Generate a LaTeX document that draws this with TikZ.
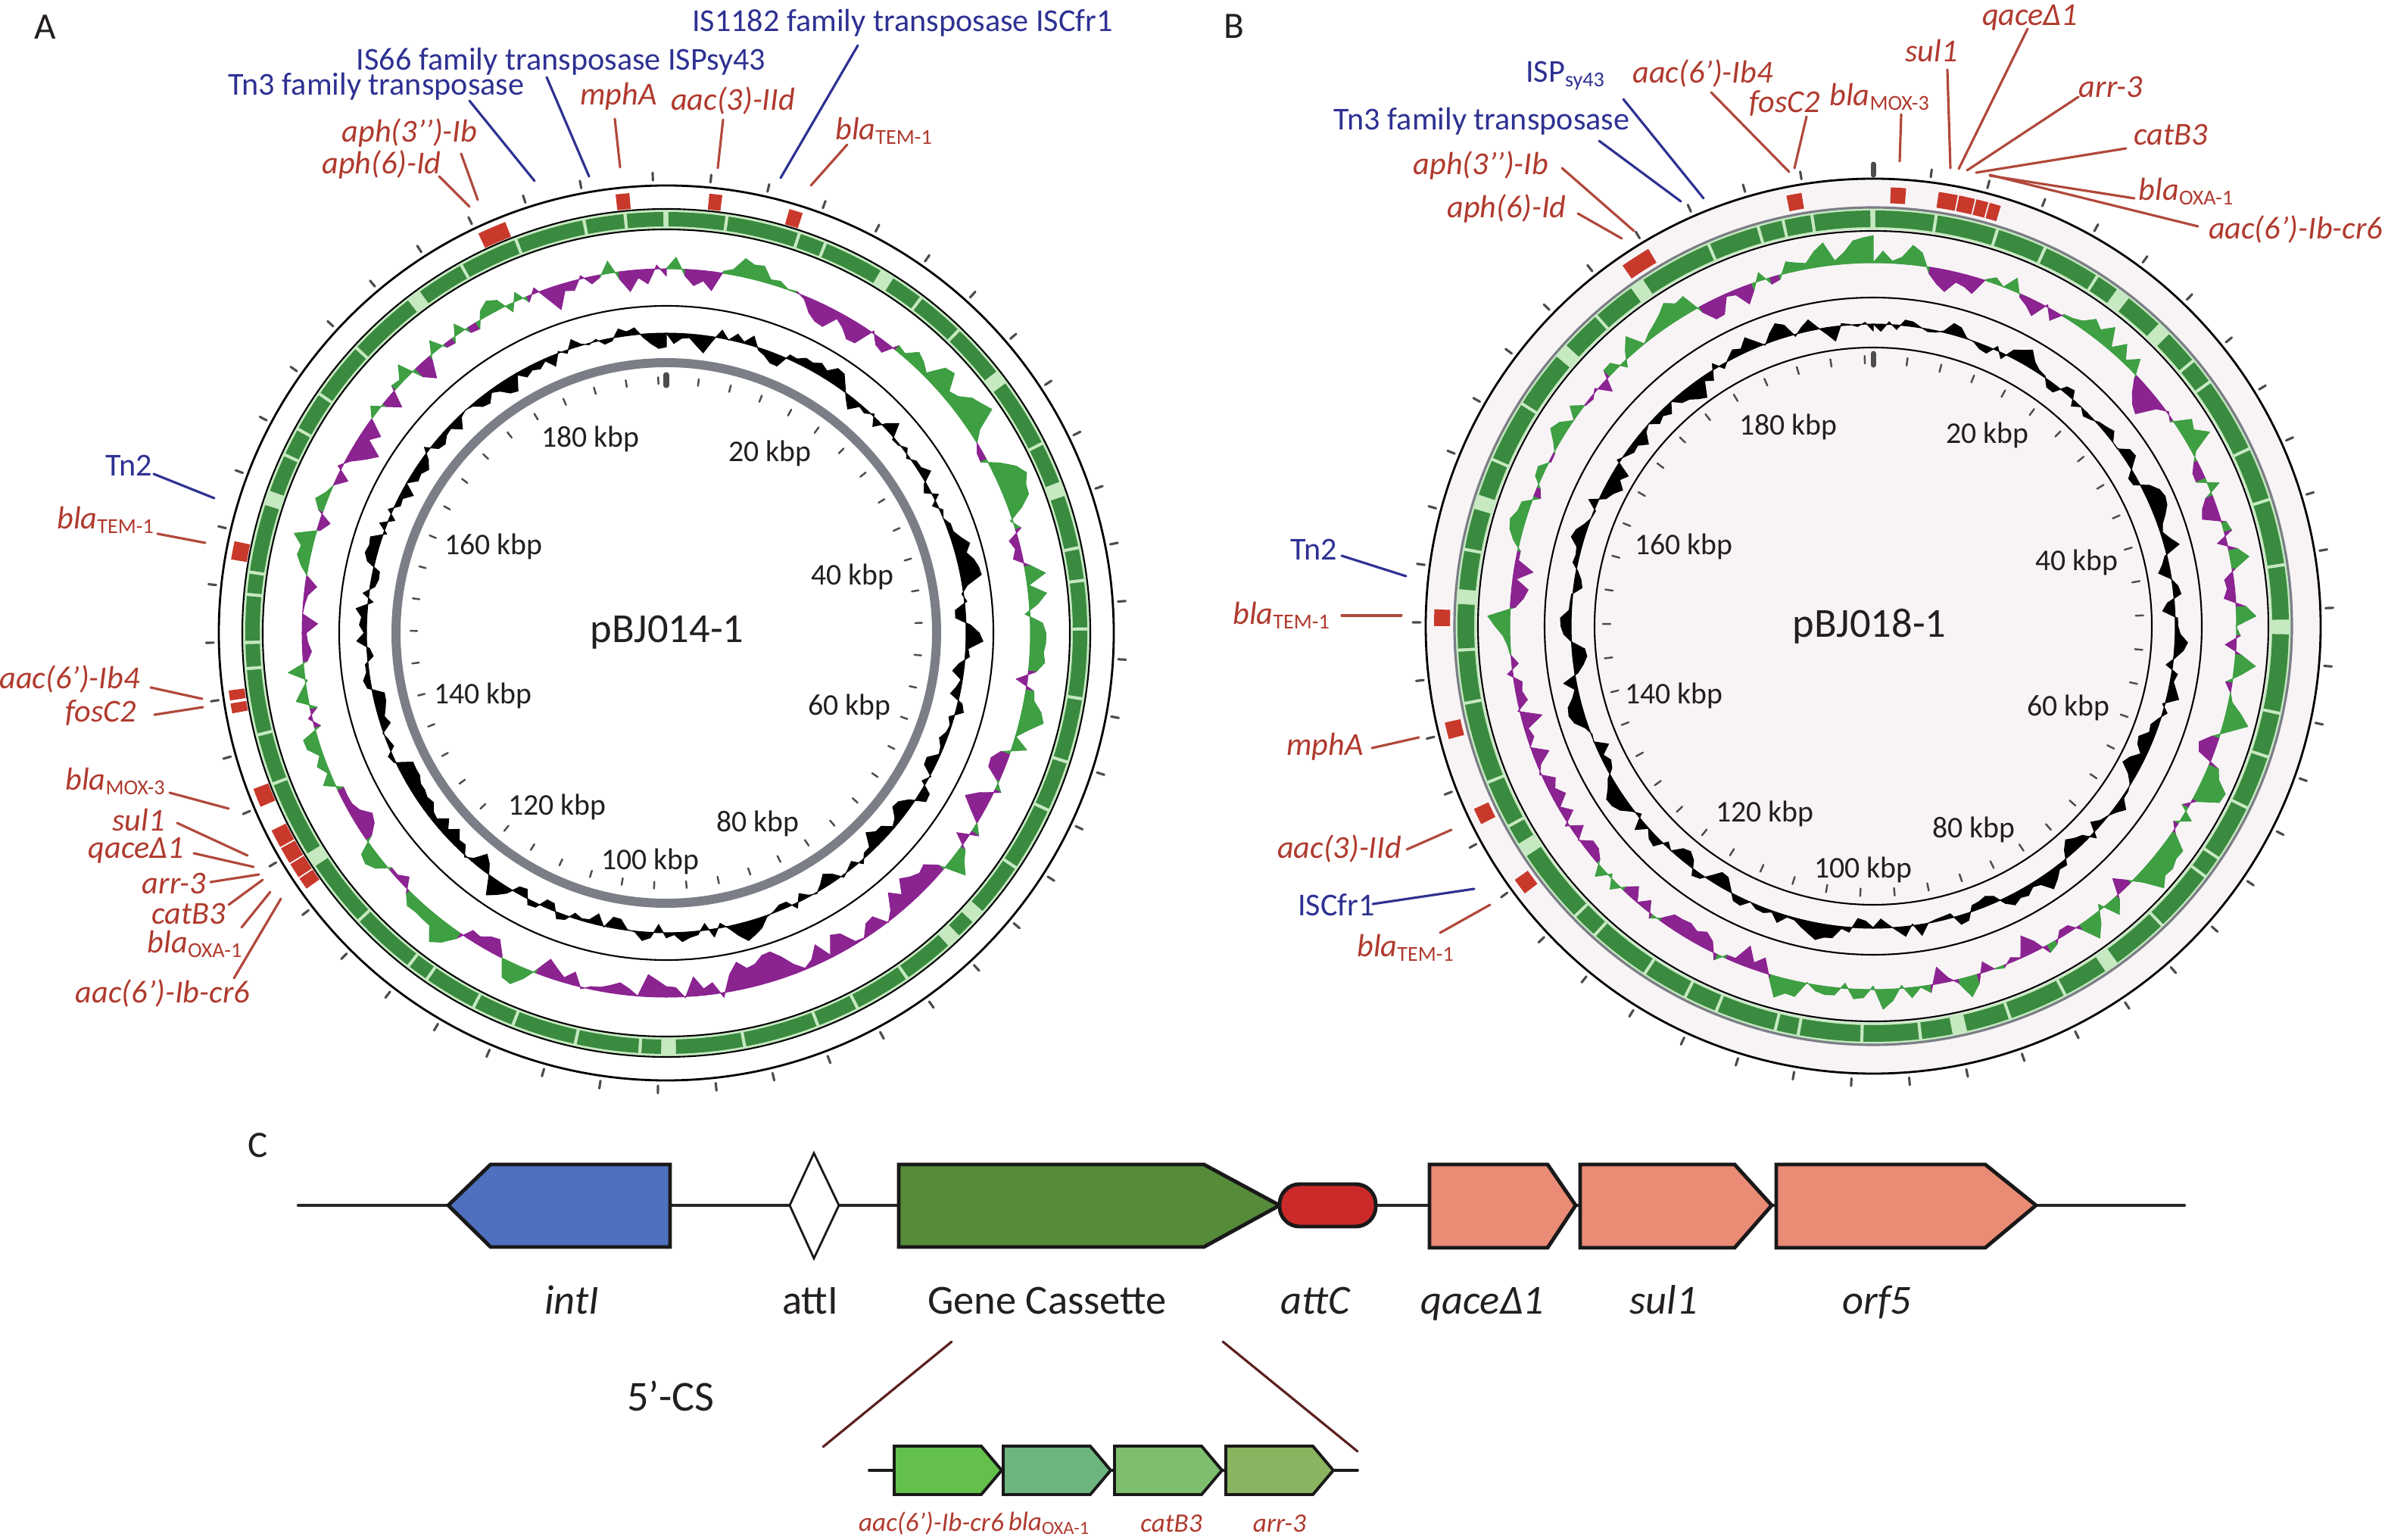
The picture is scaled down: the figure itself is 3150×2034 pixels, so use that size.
\documentclass[tikz,border=0pt]{standalone}
\usepackage{fontspec}
\setmainfont{Carlito}
\usetikzlibrary{positioning}
\definecolor{labred}{HTML}{B03A2E}
\definecolor{leadred}{HTML}{B0483B}
\definecolor{labblue}{HTML}{2E3192}
\definecolor{genered}{HTML}{C8392B}
\definecolor{cdsdark}{HTML}{3A8A3F}
\definecolor{cdslight}{HTML}{C6E9C1}
\definecolor{skewgreen}{HTML}{3E9F43}
\definecolor{skewpurple}{HTML}{8B2391}
\definecolor{ringgray}{HTML}{7B7E86}
\definecolor{diskpink}{HTML}{F8F4F6}
\definecolor{txtgray}{HTML}{231F20}
\definecolor{intblue}{HTML}{4F70BF}
\definecolor{casgreen}{HTML}{558B39}
\definecolor{attcred}{HTML}{CC2A2A}
\definecolor{salmon}{HTML}{EA8B75}
\definecolor{casa}{HTML}{62C04B}
\definecolor{casb}{HTML}{6DB57F}
\definecolor{casc}{HTML}{7DBF6E}
\definecolor{casd}{HTML}{8AB45F}
\definecolor{zoomc}{HTML}{5C2020}

% ring sector: inner/outer radius, start/end angle clockwise from top
\newcommand{\annsec}[4]{(#3-90:#1) arc[start angle=#3-90,end angle=#4-90,radius=#1] -- (#4-90:#2) arc[start angle=#4-90,end angle=#3-90,radius=#2] -- cycle}
% skew / content track
\newcommand{\gctrack}[6]{%
  \pgfmathsetseed{#4}\gdef\vold{0}%
  \foreach \ang in {0,1.5,...,358.5}{%
    \pgfmathsetmacro\vnew{max(-38,min(46,0.55*\vold+#2+#3*(rnd-0.5)))}%
    \pgfmathsetmacro\vsum{\vold+\vnew}%
    \pgfmathsetmacro\ra{#1+\vold}\pgfmathsetmacro\rb{#1+\vnew}%
    \ifdim\vsum pt>0pt\def\gccol{#5}\else\def\gccol{#6}\fi
    \filldraw[\gccol,line width=0.3pt,line join=round] (\ang-90:#1) -- (\ang-90:\ra) -- (\ang-88.5:\rb) -- (\ang-88.5:#1) -- cycle;%
    \global\let\vold\vnew}}
% CDS blocks
\newcommand{\cdsring}[3]{%
  \pgfmathsetseed{#3}\gdef\acur{0.3}%
  \foreach \i in {1,...,80}{%
    \pgfmathsetmacro\aend{min(\acur+2.5+8.5*rnd,359.6)}%
    \ifdim\acur pt<359pt \fill[cdsdark] \annsec{#1}{#2}{\acur}{\aend};\fi
    \pgfmathsetmacro\anew{\aend+0.45+1.6*(rnd>0.85)}%
    \global\let\acur\anew}}

\tikzset{
  ringline/.style={draw=black,line width=0.8pt},
  tickc/.style={draw=black!70,line width=0.9pt},
  redlab/.style={text=labred,font=\fontsize{12}{14}\selectfont\itshape,inner sep=0pt},
  bluelab/.style={text=labblue,font=\fontsize{12}{14}\selectfont,inner sep=0pt},
  redlead/.style={draw=leadred,line width=0.9pt},
  bluelead/.style={draw=labblue,line width=0.9pt},
  kbplab/.style={text=txtgray,font=\fontsize{11.3}{13}\selectfont,inner sep=0pt},
  plname/.style={text=txtgray,font=\fontsize{15.5}{18}\selectfont,inner sep=0pt},
  panlab/.style={text=txtgray,font=\fontsize{14}{16}\selectfont,inner sep=0pt},
  gbox/.style={draw=black!90,line width=1.4pt,line join=miter},
  sbox/.style={draw=black!90,line width=1.1pt},
  cline/.style={draw=black!85,line width=1.2pt},
  clab/.style={text=txtgray,font=\fontsize{15.5}{18}\selectfont,anchor=base,inner sep=0pt},
  citlab/.style={clab,font=\fontsize{15.5}{18}\selectfont\itshape},
  smallred/.style={text=labred,font=\fontsize{10}{12}\selectfont\itshape,inner sep=0pt},
  zoomline/.style={draw=zoomc,line width=0.9pt}
}

\begin{document}
\begin{tikzpicture}[x=0.01cm,y=-0.01cm,line cap=round]
\useasboundingbox (0,0) rectangle (3150,2034);

\node[panlab] (la) at (60,36) {A};
\node[panlab] (lb) at (1630,35) {B};
\node[panlab] (lc) at (341,1513) {C};

% plasmid pBJ014-1
\begin{scope}[shift={(880,836)}]
  \foreach \k in {0,...,48}{\draw[tickc] (\k*7.31-91.7:598) -- (\k*7.31-91.7:608);}
  \draw[ringline] (0,0) circle[radius=591];
  \foreach \p/\q in {-25.2/-21.4,-6.6/-4.8,5.6/7.3,16.2/18,-80.4/-78,259.5/260.8,261.2/262.5,246.8/249.3,241/243.4,238.6/240.8,236.4/238.4,234.6/236.2}{\fill[genered] \annsec{562}{583}{\p}{\q};}
  \fill[cdslight,even odd rule] (0,0) circle[radius=559] (0,0) circle[radius=534];
  \cdsring{537}{556}{21}
  \draw[ringline,line width=0.6pt] (0,0) circle[radius=560] (0,0) circle[radius=533];
  \gctrack{481}{3.5*sin(2*(\ang-10))}{44}{7}{skewgreen}{skewpurple}
  \draw[ringline,line width=0.6pt] (0,0) circle[radius=432];
  \gctrack{396}{0}{30}{13}{black}{black}
  \draw[ringgray,line width=3.4pt] (0,0) circle[radius=357];
  \foreach \k in {0,...,49}{\draw[tickc,line width=0.7pt] (\k*7.31-90:329) -- (\k*7.31-90:338);}
  \draw[tickc,line width=2pt] (-90:327) -- (-90:341);
\end{scope}

\node[plname] (pa) at (881,835) {pBJ014-1};
\node[kbplab] (a20) at (1017,599) {20 kbp};
\node[kbplab] (a40) at (1126,762) {40 kbp};
\node[kbplab] (a60) at (1122,934) {60 kbp};
\node[kbplab] (a80) at (1001,1088) {80 kbp};
\node[kbplab] (a100) at (859,1138) {100 kbp};
\node[kbplab] (a120) at (736,1066) {120 kbp};
\node[kbplab] (a140) at (638,919) {140 kbp};
\node[kbplab] (a160) at (652,722) {160 kbp};
\node[kbplab] (a180) at (780,580) {180 kbp};

% labels of A
\node[bluelab] (a-is1182) at (1192,30) {IS1182 family transposase ISCfr1};
\node[bluelab] (a-is66) at (741,81) {IS66 family transposase ISPsy43};
\node[bluelab] (a-tn3) at (497,114) {Tn3 family transposase};
\node[redlab] (a-mpha) at (817,127) {mphA};
\node[redlab] (a-aac3) at (968,133) {aac(3)-IId};
\node[redlab] (a-tem) at (1168,173) {bla\textsubscript{\upshape TEM-1}};
\node[redlab] (a-aph3) at (541,175) {aph(3’’)-Ib};
\node[redlab] (a-aph6) at (504,217) {aph(6)-Id};
\node[bluelab] (a-tn2) at (170,615) {Tn2};
\node[redlab] (a-tem2) at (140,687) {bla\textsubscript{\upshape TEM-1}};
\node[redlab] (a-aac6) at (92,897) {aac(6’)-Ib4};
\node[redlab] (a-fos) at (133,942) {fosC2};
\node[redlab] (a-mox) at (153,1032) {bla\textsubscript{\upshape MOX-3}};
\node[redlab] (a-sul) at (183,1083) {sul1};
\node[redlab] (a-qace) at (180,1123) {qaceΔ1};
\node[redlab] (a-arr) at (230,1167) {arr-3};
\node[redlab] (a-cat) at (249,1207) {catB3};
\node[redlab] (a-oxa) at (258,1247) {bla\textsubscript{\upshape OXA-1}};
\node[redlab] (a-cr6) at (215,1312) {aac(6’)-Ib-cr6};
\foreach \n/\xa/\ya/\xb/\yb in {a-is1182/1133/60/1031/235,a-is66/722/102/778/233,a-tn3/620/133/706/239,a-tn2/203/626/283/658}{
  \coordinate (\n-s) at (\xa,\ya); \coordinate (\n-e) at (\xb,\yb);
  \draw[bluelead] (\n-s) -- (\n-e);}
\foreach \n/\xa/\ya/\xb/\yb in {a-mpha/812/157/819/221,a-aac3/955/158/948/222,a-tem/1119/191/1071/245,a-aph3/609/203/631/264,a-aph6/580/233/620/273,a-tem2/208/705/271/717,a-aac6/199/908/267/923,a-fos/204/944/268/934,a-mox/224/1047/302/1068,a-sul/234/1087/327/1130,a-qace/256/1127/335/1145,a-arr/278/1165/342/1155,a-cat/302/1195/347/1162,a-oxa/319/1225/357/1178,a-cr6/309/1292/371/1187}{
  \coordinate (\n-s) at (\xa,\ya); \coordinate (\n-e) at (\xb,\yb);
  \draw[redlead] (\n-s) -- (\n-e);}

% plasmid pBJ018-1
\begin{scope}[shift={(2474,827)}]
  \fill[diskpink] (0,0) circle[radius=591];
  \foreach \k in {1,...,48}{\draw[tickc] (\k*7.31-90:598) -- (\k*7.31-90:608);}
  \draw[tickc,line width=2pt] (-90:596) -- (-90:610);
  \draw[ringline] (0,0) circle[radius=591];
  \foreach \p/\q in {-34.8/-30.8,-11.4/-9.4,2.3/4.3,8.6/11.1,11.3/13.4,13.6/15.2,15.4/16.9,270/272.2,255.1/257.3,243.2/245.4,232.5/234.7}{\fill[genered] \annsec{559}{580}{\p}{\q};}
  \fill[cdslight,even odd rule] (0,0) circle[radius=552] (0,0) circle[radius=524];
  \cdsring{527}{549}{34}
  \draw[ringgray,line width=0.9pt] (0,0) circle[radius=553];
  \draw[ringline,line width=0.6pt] (0,0) circle[radius=522];
  \gctrack{480}{3.5*cos(\ang-80)}{44}{17}{skewgreen}{skewpurple}
  \draw[ringline,line width=0.6pt] (0,0) circle[radius=434];
  \gctrack{399}{0}{30}{29}{black}{black}
  \draw[ringline,line width=0.6pt] (0,0) circle[radius=368];
  \foreach \k in {0,...,49}{\draw[tickc,line width=0.7pt] (\k*7.31-90:347) -- (\k*7.31-90:357);}
  \draw[tickc,line width=2pt] (-90:345) -- (-90:360);
\end{scope}

\node[plname] (pb) at (2469,827) {pBJ018-1};
\node[kbplab] (b20) at (2625,575) {20 kbp};
\node[kbplab] (b40) at (2743,743) {40 kbp};
\node[kbplab] (b60) at (2732,935) {60 kbp};
\node[kbplab] (b80) at (2607,1096) {80 kbp};
\node[kbplab] (b100) at (2461,1149) {100 kbp};
\node[kbplab] (b120) at (2331,1075) {120 kbp};
\node[kbplab] (b140) at (2211,919) {140 kbp};
\node[kbplab] (b160) at (2224,722) {160 kbp};
\node[kbplab] (b180) at (2362,564) {180 kbp};

% labels of B
\node[bluelab] (b-isp) at (2068,100) {ISP\textsubscript{sy43}};
\node[bluelab] (b-tn3) at (1957,160) {Tn3 family transposase};
\node[redlab] (b-aac6) at (2249,97) {aac(6’)-Ib4};
\node[redlab] (b-fos) at (2357,137) {fosC2};
\node[redlab] (b-mox) at (2483,128) {bla\textsubscript{\upshape MOX-3}};
\node[redlab] (b-sul) at (2551,67) {sul1};
\node[redlab] (b-qace) at (2681,23) {qaceΔ1};
\node[redlab] (b-arr) at (2788,115) {arr-3};
\node[redlab] (b-cat) at (2867,178) {catB3};
\node[redlab] (b-oxa) at (2888,253) {bla\textsubscript{\upshape OXA-1}};
\node[redlab] (b-cr6) at (3032,303) {aac(6’)-Ib-cr6};
\node[redlab] (b-aph3) at (1956,218) {aph(3’’)-Ib};
\node[redlab] (b-aph6) at (1990,275) {aph(6)-Id};
\node[bluelab] (b-tn2) at (1735,726) {Tn2};
\node[redlab] (b-tem) at (1693,813) {bla\textsubscript{\upshape TEM-1}};
\node[redlab] (b-mph) at (1750,986) {mphA};
\node[redlab] (b-aac3) at (1769,1121) {aac(3)-IId};
\node[bluelab] (b-iscfr) at (1765,1195) {ISCfr1};
\node[redlab] (b-tem2) at (1857,1252) {bla\textsubscript{\upshape TEM-1}};
\foreach \n/\xa/\ya/\xb/\yb in {b-isp/2144/131/2250/262,b-tn3/2112/186/2220/266,b-tn2/1772/734/1857/761,b-iscfr/1813/1194/1947/1174}{
  \coordinate (\n-s) at (\xa,\ya); \coordinate (\n-e) at (\xb,\yb);
  \draw[bluelead] (\n-s) -- (\n-e);}
\foreach \n/\xa/\ya/\xb/\yb in {b-aac6/2260/122/2363/227,b-fos/2386/154/2370/222,b-mox/2511/151/2509/213,b-sul/2572/92/2576/222,b-qace/2678/38/2587/223,b-arr/2745/128/2598/225,b-cat/2808/196/2610/228,b-oxa/2819/262/2628/232,b-cr6/2903/299/2628/231,b-aph3/2063/222/2158/305,b-aph6/2084/282/2142/315,b-tem/1772/813/1851/813,b-mph/1812/988/1874/974,b-aac3/1858/1122/1917/1096,b-tem2/1902/1232/1968/1195}{
  \coordinate (\n-s) at (\xa,\ya); \coordinate (\n-e) at (\xb,\yb);
  \draw[redlead] (\n-s) -- (\n-e);}

% panel C: integron
\draw[cline] (394,1592) -- (2885,1592);
\filldraw[gbox,fill=intblue] (592,1592) -- (648,1538) -- (885,1538) -- (885,1647) -- (648,1647) -- cycle;
\filldraw[gbox,fill=white,line width=0.8pt] (1043,1592) -- (1075,1523) -- (1108,1592) -- (1075,1662) -- cycle;
\filldraw[gbox,fill=casgreen] (1187,1538) -- (1590,1538) -- (1690,1592) -- (1590,1647) -- (1187,1647) -- cycle;
\filldraw[gbox,fill=attcred,rounded corners=7.5pt] (1690,1564) rectangle (1817,1620);
\filldraw[gbox,fill=salmon] (1888,1538) -- (2044,1538) -- (2081,1592) -- (2044,1648) -- (1888,1648) -- cycle;
\filldraw[gbox,fill=salmon] (2087,1538) -- (2291,1538) -- (2340,1592) -- (2291,1648) -- (2087,1648) -- cycle;
\filldraw[gbox,fill=salmon] (2346,1538) -- (2622,1538) -- (2689,1592) -- (2622,1648) -- (2346,1648) -- cycle;
\node[citlab] (c-int) at (755,1735) {intI};
\node[clab] (c-atti) at (1070,1735) {attI};
\node[clab] (c-gc) at (1383,1735) {Gene Cassette};
\node[citlab] (c-attc) at (1737,1735) {attC};
\node[citlab] (c-qace) at (1958,1735) {qaceΔ1};
\node[citlab] (c-sul) at (2197,1735) {sul1};
\node[citlab] (c-orf) at (2479,1735) {orf5};
\node[clab,anchor=center,font=\fontsize{16}{18}\selectfont] (c-cs) at (886,1844) {5’-CS};

% gene cassette detail
\coordinate (zl1) at (1257,1772); \coordinate (zl2) at (1087,1911);
\coordinate (zr1) at (1615,1772); \coordinate (zr2) at (1793,1917);
\draw[zoomline] (zl1) -- (zl2);
\draw[zoomline] (zr1) -- (zr2);
\draw[sbox] (1148,1942) -- (1793,1942);
\foreach \x/\c in {1181/casa,1325/casb,1472/casc,1619/casd}{
  \filldraw[sbox,fill=\c] (\x,1910) -- ++(115,0) -- ++(27,32) -- ++(-27,32) -- ++(-115,0) -- cycle;}
\node[smallred] (s-cr6) at (1230,2012) {aac(6’)-Ib-cr6};
\node[smallred] (s-oxa) at (1386,2012) {bla\textsubscript{\upshape OXA-1}};
\node[smallred] (s-cat) at (1547,2012) {catB3};
\node[smallred] (s-arr) at (1690,2012) {arr-3};
\end{tikzpicture}
\end{document}
